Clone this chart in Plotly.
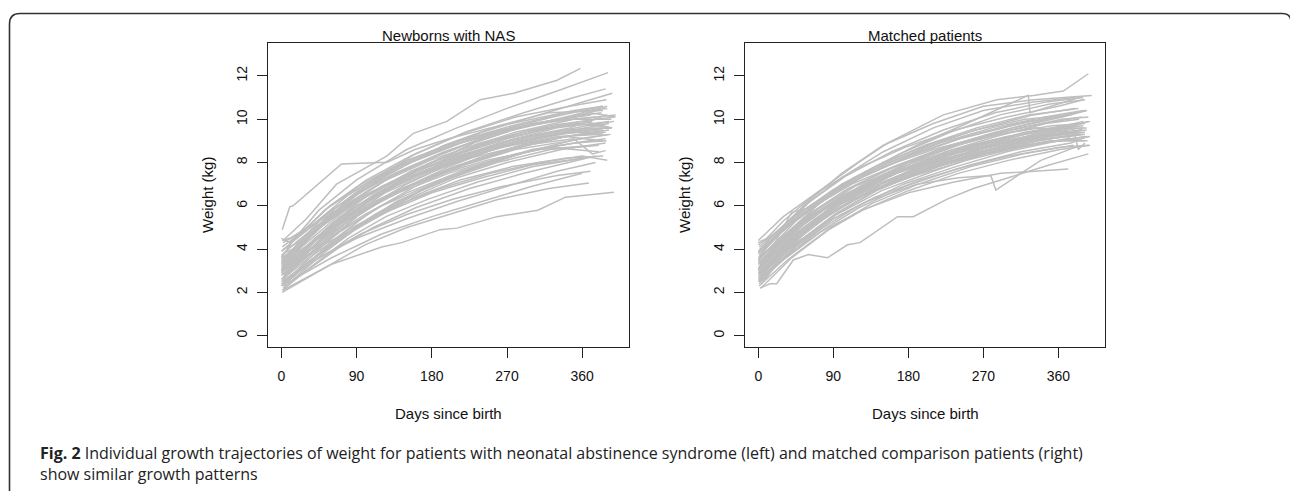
import plotly.graph_objects as go

# ---------------- data ----------------
x_ticks = [0, 90, 180, 270, 360]
y_ticks = [0, 2, 4, 6, 8, 10, 12]
panel_titles = ["Newborns with NAS", "Matched patients"]
x_title = "Days since birth"
y_title = "Weight (kg)"
caption_bold = "Fig. 2"
caption_text = ("Individual growth trajectories of weight for patients with neonatal abstinence "
                "syndrome (left) and matched comparison patients (right)")
caption_line2 = "show similar growth patterns"

nas_days = [
    [1, 10, 14, 72, 118, 126, 160, 200, 250, 300, 350, 385],
    [2, 30, 66, 126, 158, 198, 238, 278, 330, 358],
    [0, 14, 45, 90, 150, 210, 270, 330, 391],
    [2, 20, 60, 100, 160, 220, 290, 350, 388],
    [1, 30, 75, 120, 180, 240, 300, 360, 396],
    [0, 10, 40, 90, 135, 195, 260, 320, 385],
    [3, 25, 60, 110, 170, 230, 300, 370],
    [0, 30, 70, 120, 180, 250, 320, 398],
    [2, 15, 50, 100, 150, 210, 280, 345, 390],
    [1, 35, 80, 130, 190, 250, 310, 380],
    [0, 20, 55, 95, 150, 210, 275, 340, 395],
    [4, 30, 65, 110, 165, 225, 290, 355, 392],
    [0, 12, 45, 90, 140, 200, 265, 330, 385],
    [2, 30, 70, 120, 180, 240, 300, 370],
    [1, 25, 60, 100, 150, 215, 280, 350, 389],
    [0, 40, 85, 130, 185, 245, 310, 375],
    [3, 20, 50, 95, 150, 210, 270, 335, 388],
    [0, 15, 50, 90, 140, 200, 260, 320, 380],
    [2, 35, 75, 125, 180, 240, 300, 362],
    [1, 30, 70, 110, 160, 225, 290, 352, 376],
    [0, 20, 60, 105, 160, 220, 285, 345, 380],
    [2, 25, 55, 100, 145, 205, 265, 330, 383],
    [1, 10, 40, 80, 130, 190, 250, 320, 377],
    [0, 30, 65, 105, 155, 215, 280, 345, 395],
    [3, 18, 45, 90, 140, 200, 260, 330, 390],
    [1, 50, 94, 100, 150, 200, 260, 320, 368],
    [2, 60, 120, 144, 190, 210, 258, 307, 340, 398],
    [0, 45, 95, 150, 205, 265, 330, 370],
    [1, 30, 80, 130, 190, 250, 310, 360, 390],
    [0, 25, 60, 100, 150, 210, 275, 340, 388],
    [2, 14, 40, 85, 135, 195, 255, 320, 378],
    [0, 20, 55, 100, 155, 215, 280, 350, 400],
    [1, 30, 70, 115, 170, 235, 300, 365, 398],
    [3, 22, 58, 100, 150, 205, 270, 335, 392],
    [0, 35, 80, 125, 175, 235, 295, 355, 385],
    [2, 16, 48, 92, 140, 198, 262, 325, 384],
    [1, 28, 64, 110, 162, 225, 290, 355, 395],
    [0, 12, 36, 78, 128, 186, 246, 310, 372],
    [3, 30, 72, 118, 175, 240, 305, 366, 388],
    [1, 20, 50, 90, 145, 205, 270, 335, 382],
    [0, 40, 90, 140, 200, 260, 330, 392],
    [2, 15, 45, 85, 130, 185, 245, 305, 370, 400],
    [0, 25, 62, 105, 160, 225, 290, 350, 372, 388],
    [1, 18, 52, 96, 150, 212, 276, 340, 390],
    [0, 32, 75, 120, 178, 238, 300, 362, 396],
    [2, 10, 30, 70, 115, 170, 230, 295, 360, 385],
    [0, 45, 100, 160, 220, 280, 345, 394],
    [1, 22, 58, 102, 155, 215, 280, 345, 389],
    [0, 14, 42, 88, 138, 196, 258, 322, 380],
    [3, 35, 78, 124, 182, 244, 308, 370, 395],
    [0, 20, 50, 95, 145, 205, 270, 340, 385],
    [1, 26, 68, 112, 168, 230, 294, 356, 392],
    [0, 10, 28, 60, 105, 160, 220, 285, 350, 390],
    [2, 40, 80, 125, 175, 235, 300, 360],
    [1, 60, 120, 180, 240, 300, 360],
    [0, 30, 90, 150, 210, 270, 330, 376],
    [2, 50, 105, 160, 215, 275, 340, 385],
]
nas_weights = [
    [4.9, 5.95, 6.0, 7.93, 8.0, 8.0, 8.6, 9.1, 9.6, 10.0, 10.4, 10.6],
    [4.4, 5.4, 7.0, 8.3, 9.35, 9.9, 10.9, 11.2, 11.8, 12.35],
    [3.6, 4.4, 5.8, 7.2, 8.6, 9.6, 10.5, 11.3, 12.15],
    [3.4, 4.1, 5.6, 6.9, 8.4, 9.4, 10.3, 11.0, 11.4],
    [3.2, 4.4, 6.1, 7.3, 8.5, 9.4, 10.1, 10.8, 11.2],
    [3.0, 3.5, 4.8, 6.5, 7.6, 8.8, 9.7, 10.3, 10.4],
    [2.8, 3.6, 4.9, 6.4, 7.8, 8.9, 9.8, 10.2],
    [3.3, 4.3, 5.6, 6.9, 8.0, 9.0, 9.7, 10.1],
    [2.6, 3.2, 4.6, 6.1, 7.2, 8.2, 9.1, 9.6, 10.2],
    [3.1, 4.2, 5.6, 6.8, 7.8, 8.6, 9.2, 9.5],
    [3.5, 4.2, 5.3, 6.4, 7.4, 8.3, 9.0, 9.5, 9.6],
    [2.4, 3.3, 4.5, 5.8, 7.0, 8.0, 8.8, 9.3, 9.5],
    [3.9, 4.3, 5.3, 6.3, 7.2, 8.0, 8.7, 9.2, 9.3],
    [2.7, 3.6, 4.8, 6.0, 7.0, 7.9, 8.6, 9.0],
    [3.0, 3.7, 4.6, 5.6, 6.6, 7.6, 8.4, 8.9, 9.0],
    [3.3, 4.4, 5.5, 6.5, 7.4, 8.1, 8.6, 8.8],
    [2.2, 2.8, 3.8, 5.1, 6.3, 7.3, 8.0, 8.6, 8.9],
    [2.9, 3.5, 4.7, 5.7, 6.6, 7.5, 8.2, 8.7, 8.5],
    [2.5, 3.5, 4.6, 5.7, 6.6, 7.3, 7.9, 8.2],
    [2.1, 3.0, 4.1, 5.0, 5.9, 6.8, 7.5, 8.1, 8.3],
    [3.7, 4.4, 5.6, 6.6, 7.6, 8.4, 9.0, 9.4, 9.4],
    [4.3, 4.8, 5.9, 7.0, 7.9, 8.8, 9.5, 10.0, 10.3],
    [4.4, 4.5, 5.2, 6.5, 7.7, 8.7, 9.4, 9.9, 10.1],
    [3.1, 4.5, 5.9, 7.0, 8.0, 8.9, 9.6, 10.0, 10.0],
    [2.3, 3.0, 4.0, 5.5, 6.7, 7.8, 8.7, 9.3, 9.6],
    [2.0, 3.1, 4.05, 4.2, 5.0, 5.6, 6.3, 6.8, 7.05],
    [2.1, 3.3, 4.1, 4.3, 4.9, 4.97, 5.5, 5.8, 6.4, 6.63],
    [2.4, 3.6, 4.7, 5.6, 6.3, 6.9, 7.4, 7.6],
    [2.6, 3.5, 4.9, 5.9, 6.8, 7.5, 8.0, 8.3, 8.1],
    [3.4, 4.0, 5.0, 6.0, 6.9, 7.8, 8.6, 9.2, 9.4],
    [3.8, 4.0, 5.0, 6.4, 7.5, 8.5, 9.3, 9.9, 10.4],
    [2.9, 3.7, 5.0, 6.4, 7.6, 8.6, 9.4, 10.0, 10.2],
    [3.2, 4.1, 5.3, 6.5, 7.6, 8.5, 9.2, 9.7, 9.9],
    [2.7, 3.4, 4.6, 5.9, 7.0, 8.0, 8.8, 9.4, 9.8],
    [3.0, 4.0, 5.3, 6.4, 7.3, 8.2, 8.9, 9.3, 9.4],
    [3.5, 4.1, 5.4, 6.7, 7.8, 8.7, 9.5, 10.1, 10.6],
    [2.8, 3.9, 5.2, 6.5, 7.6, 8.6, 9.4, 9.8, 9.6],
    [3.6, 3.9, 4.7, 5.9, 7.0, 8.1, 8.9, 9.5, 9.9],
    [2.5, 3.3, 4.5, 5.7, 6.9, 7.9, 8.6, 9.0, 9.1],
    [3.3, 4.0, 5.1, 6.2, 7.3, 8.3, 9.1, 9.7, 9.8],
    [3.0, 4.5, 6.0, 7.1, 8.1, 8.9, 9.6, 9.9],
    [4.0, 4.2, 5.0, 6.2, 7.3, 8.3, 9.2, 9.8, 10.3, 10.1],
    [2.6, 3.6, 5.0, 6.3, 7.4, 8.2, 8.8, 9.1, 8.4, 8.55],
    [3.9, 4.5, 5.8, 7.0, 8.1, 9.0, 9.7, 10.3, 10.5],
    [3.4, 4.6, 6.0, 7.1, 8.1, 8.9, 9.5, 9.9, 9.6],
    [3.1, 3.3, 4.1, 5.5, 6.6, 7.6, 8.4, 9.0, 9.5, 9.5],
    [2.8, 4.1, 5.8, 7.0, 7.9, 8.6, 9.0, 9.3],
    [4.1, 4.7, 6.0, 7.2, 8.3, 9.3, 10.1, 10.6, 10.9],
    [2.3, 2.7, 3.7, 5.0, 6.2, 7.2, 8.0, 8.6, 8.8],
    [2.9, 4.0, 5.4, 6.6, 7.6, 8.5, 9.2, 9.6, 9.6],
    [3.2, 3.6, 4.5, 5.7, 6.8, 7.8, 8.6, 9.2, 9.0],
    [2.4, 3.2, 4.5, 5.6, 6.7, 7.7, 8.5, 9.1, 9.3],
    [4.5, 4.3, 4.8, 5.8, 6.9, 7.9, 8.8, 9.6, 10.2, 10.6],
    [2.2, 3.3, 4.5, 5.5, 6.3, 7.1, 7.8, 8.2],
    [2.3, 3.6, 4.7, 5.5, 6.2, 6.9, 7.5],
    [2.5, 3.3, 4.5, 5.4, 6.2, 6.9, 7.6, 8.0],
    [3.0, 4.2, 5.3, 6.4, 7.2, 7.8, 8.2, 8.3],
]

matched_days = [
    [0, 30, 70, 120, 155, 192, 222, 286, 330, 366, 396],
    [2, 25, 60, 100, 150, 210, 270, 330, 400],
    [0, 40, 80, 130, 190, 250, 324, 326, 360, 385],
    [1, 20, 55, 100, 150, 210, 270, 330, 380],
    [0, 30, 70, 115, 170, 230, 290, 350, 392],
    [3, 40, 85, 130, 185, 245, 305, 365, 394],
    [0, 15, 45, 90, 140, 200, 260, 320, 375],
    [2, 30, 65, 110, 165, 225, 285, 345, 385],
    [1, 25, 60, 105, 160, 220, 280, 345, 390],
    [0, 35, 75, 120, 175, 235, 295, 355, 388],
    [4, 20, 50, 95, 145, 205, 265, 330, 384],
    [0, 28, 68, 112, 168, 228, 290, 352, 392],
    [1, 14, 40, 85, 135, 195, 255, 318, 378],
    [2, 30, 72, 118, 172, 232, 296, 358, 398],
    [2, 14, 22, 42, 60, 83, 107, 122, 167, 186, 226, 258, 300, 350, 396],
    [0, 35, 80, 130, 190, 240, 279, 285, 339, 380],
    [1, 30, 75, 125, 180, 235, 291, 372],
    [0, 20, 55, 100, 155, 215, 275, 340, 385],
    [3, 45, 90, 140, 195, 255, 315, 375, 395],
    [0, 25, 65, 110, 165, 225, 290, 350, 392],
    [1, 35, 80, 125, 180, 240, 300, 362, 398],
    [0, 15, 50, 95, 150, 210, 270, 332, 380],
    [2, 30, 70, 115, 170, 230, 290, 350, 395],
    [0, 40, 85, 130, 185, 245, 310, 370, 390],
    [1, 22, 58, 102, 156, 216, 278, 340, 378, 384, 392],
    [0, 18, 48, 92, 146, 206, 266, 328, 388],
    [3, 32, 74, 120, 176, 238, 300, 362, 396],
    [0, 12, 36, 78, 128, 186, 248, 310, 372],
    [1, 26, 62, 106, 160, 222, 284, 346, 390],
    [0, 36, 82, 128, 182, 242, 304, 366, 394],
    [2, 20, 52, 96, 148, 208, 268, 330, 386],
    [0, 28, 66, 110, 164, 224, 286, 348, 392],
    [1, 16, 44, 88, 140, 200, 262, 324, 384],
    [0, 30, 70, 116, 172, 234, 298, 360, 396],
    [3, 40, 88, 136, 192, 254, 318, 378],
    [0, 22, 56, 100, 154, 214, 276, 338, 390],
    [1, 34, 78, 124, 178, 238, 300, 362, 392],
    [0, 10, 30, 70, 118, 176, 236, 298, 360, 390],
    [2, 26, 60, 104, 158, 218, 280, 342, 388],
    [0, 44, 92, 142, 198, 260, 322, 382],
    [1, 18, 50, 94, 148, 210, 272, 336, 386],
    [0, 24, 58, 102, 156, 218, 280, 344, 390],
    [2, 38, 84, 132, 188, 250, 312, 374, 398],
    [0, 20, 40, 60, 100, 150, 210, 270, 330, 380],
    [1, 30, 68, 112, 166, 226, 288, 350, 394],
    [0, 14, 42, 86, 138, 198, 258, 320, 380],
    [3, 28, 64, 108, 162, 222, 284, 346, 392],
    [0, 36, 80, 126, 180, 240, 302, 364, 396],
    [1, 20, 54, 98, 150, 210, 272, 334, 388],
    [0, 32, 74, 120, 174, 236, 298, 360, 392],
    [2, 12, 34, 76, 124, 182, 242, 304, 366, 394],
    [0, 40, 90, 140, 196, 258, 320, 382],
    [1, 24, 60, 106, 160, 220, 282, 344, 390],
]
matched_weights = [
    [4.4, 5.5, 6.6, 8.0, 8.9, 9.6, 10.2, 10.9, 11.1, 11.3, 12.1],
    [4.0, 4.9, 6.2, 7.5, 8.8, 9.8, 10.6, 10.9, 11.1],
    [3.8, 5.2, 6.4, 7.6, 8.8, 9.8, 11.1, 10.3, 10.7, 11.0],
    [3.6, 4.6, 6.0, 7.3, 8.5, 9.6, 10.4, 10.8, 11.0],
    [3.3, 4.6, 6.0, 7.3, 8.4, 9.4, 10.2, 10.7, 10.9],
    [3.0, 4.4, 5.9, 7.0, 8.0, 8.9, 9.6, 10.1, 10.4],
    [3.5, 4.1, 5.3, 6.6, 7.7, 8.7, 9.5, 10.0, 10.2],
    [2.8, 3.9, 5.1, 6.4, 7.5, 8.5, 9.2, 9.8, 10.0],
    [3.2, 4.2, 5.4, 6.5, 7.5, 8.3, 9.0, 9.5, 9.9],
    [3.1, 4.3, 5.5, 6.6, 7.5, 8.3, 8.9, 9.4, 9.6],
    [2.4, 3.2, 4.4, 5.7, 6.8, 7.8, 8.6, 9.3, 9.7],
    [3.9, 4.8, 6.0, 7.0, 7.9, 8.7, 9.3, 9.7, 9.8],
    [2.6, 3.2, 4.3, 5.6, 6.7, 7.6, 8.4, 9.0, 9.4],
    [3.4, 4.5, 5.7, 6.7, 7.6, 8.4, 9.0, 9.5, 9.9],
    [2.2, 2.4, 2.4, 3.5, 3.75, 3.6, 4.2, 4.3, 5.5, 5.5, 6.3, 6.8, 7.3, 7.9, 8.4],
    [2.9, 4.0, 5.2, 6.2, 7.0, 7.3, 7.4, 6.73, 8.1, 8.7],
    [2.5, 3.5, 4.8, 5.8, 6.6, 7.1, 7.5, 7.7],
    [3.0, 3.8, 5.0, 6.1, 7.0, 7.8, 8.4, 8.9, 9.1],
    [2.7, 4.1, 5.4, 6.4, 7.2, 7.9, 8.5, 8.9, 9.2],
    [3.6, 4.4, 5.6, 6.6, 7.5, 8.2, 8.7, 9.1, 9.3],
    [2.3, 3.5, 4.8, 5.8, 6.7, 7.5, 8.1, 8.6, 8.8],
    [4.2, 4.6, 5.7, 6.8, 7.8, 8.6, 9.2, 9.6, 9.4],
    [3.2, 4.2, 5.3, 6.3, 7.2, 8.0, 8.6, 9.0, 9.0],
    [2.9, 4.3, 5.6, 6.6, 7.5, 8.2, 8.7, 9.1, 9.6],
    [3.4, 4.2, 5.4, 6.5, 7.5, 8.3, 8.9, 9.3, 9.6, 8.6, 8.9],
    [3.0, 3.7, 4.8, 6.0, 7.0, 7.9, 8.6, 9.1, 9.5],
    [2.6, 3.6, 4.8, 5.9, 6.9, 7.7, 8.3, 8.7, 8.8],
    [3.8, 4.2, 5.1, 6.3, 7.4, 8.4, 9.2, 9.8, 10.2],
    [4.1, 4.9, 6.2, 7.4, 8.5, 9.5, 10.3, 10.8, 11.0],
    [3.3, 4.6, 5.9, 6.9, 7.8, 8.6, 9.2, 9.6, 9.6],
    [2.5, 3.3, 4.6, 5.9, 7.0, 7.9, 8.7, 9.2, 9.5],
    [2.8, 3.8, 5.1, 6.2, 7.2, 8.0, 8.7, 9.2, 9.4],
    [3.7, 4.3, 5.5, 6.7, 7.8, 8.8, 9.6, 10.2, 10.5],
    [3.5, 4.6, 5.8, 6.9, 7.8, 8.6, 9.2, 9.6, 9.9],
    [2.2, 3.6, 5.0, 6.1, 7.0, 7.8, 8.4, 8.8],
    [3.1, 4.0, 5.2, 6.4, 7.4, 8.3, 9.0, 9.5, 9.7],
    [2.9, 4.1, 5.4, 6.5, 7.4, 8.1, 8.7, 9.0, 9.0],
    [4.3, 4.5, 5.3, 6.6, 7.7, 8.7, 9.5, 10.1, 10.6, 10.9],
    [3.3, 4.3, 5.6, 6.7, 7.7, 8.6, 9.3, 9.8, 10.1],
    [2.7, 4.2, 5.6, 6.7, 7.6, 8.4, 9.0, 9.3],
    [2.4, 3.1, 4.3, 5.6, 6.7, 7.6, 8.4, 9.0, 9.3],
    [3.9, 4.7, 5.9, 7.0, 8.0, 8.9, 9.6, 10.1, 10.4],
    [3.0, 4.3, 5.6, 6.6, 7.4, 8.1, 8.7, 9.1, 9.2],
    [3.5, 4.3, 5.7, 5.9, 7.0, 8.0, 8.9, 9.6, 10.2, 10.5],
    [3.2, 4.2, 5.4, 6.5, 7.5, 8.3, 8.9, 9.3, 9.5],
    [2.6, 3.2, 4.4, 5.8, 6.9, 7.9, 8.7, 9.3, 9.7],
    [3.6, 4.5, 5.7, 6.8, 7.8, 8.7, 9.4, 10.0, 10.4],
    [3.4, 4.6, 5.9, 7.0, 8.0, 8.8, 9.5, 10.0, 10.1],
    [2.9, 3.7, 4.9, 6.1, 7.1, 8.0, 8.7, 9.2, 9.4],
    [2.5, 3.6, 4.9, 6.0, 7.0, 7.8, 8.5, 9.0, 9.2],
    [4.0, 4.3, 5.1, 6.3, 7.3, 8.3, 9.1, 9.7, 10.2, 10.4],
    [3.1, 4.6, 6.0, 7.1, 8.0, 8.8, 9.4, 9.8],
    [2.7, 3.6, 4.9, 6.1, 7.1, 7.9, 8.6, 9.1, 9.3],
]

# ---------------- figure ----------------
W, H = 1290, 491
LINE_COLOR = "#bebebe"
AX_COLOR = "#222222"
R_FONT = "Liberation Sans, Arial, Helvetica, sans-serif"


def px(x):
    return x / W


def py(y):
    return 1 - y / H


fig = go.Figure()
for d, w in zip(nas_days, nas_weights):
    fig.add_trace(go.Scatter(x=d, y=w, mode="lines", xaxis="x", yaxis="y",
                             line=dict(color=LINE_COLOR, width=1.5),
                             hoverinfo="skip", showlegend=False))
for d, w in zip(matched_days, matched_weights):
    fig.add_trace(go.Scatter(x=d, y=w, mode="lines", xaxis="x2", yaxis="y2",
                             line=dict(color=LINE_COLOR, width=1.5),
                             hoverinfo="skip", showlegend=False))

panels = [(268, 629), (745, 1105)]
top_px, bot_px = 43, 347

xaxis_common = dict(range=[-16, 416], tickvals=x_ticks, ticktext=[str(v) for v in x_ticks],
                    showline=True, mirror=True, linecolor=AX_COLOR, linewidth=1.4,
                    ticks="outside", ticklen=10, tickwidth=1.4, tickcolor=AX_COLOR,
                    showgrid=False, zeroline=False,
                    tickfont=dict(family=R_FONT, size=14, color="#111"),
                    ticklabelstandoff=6)
yaxis_common = dict(range=[-0.52, 13.52], tickvals=y_ticks, ticktext=[str(v) for v in y_ticks],
                    showline=True, mirror=True, linecolor=AX_COLOR, linewidth=1.4,
                    ticks="outside", ticklen=10, tickwidth=1.4, tickcolor=AX_COLOR,
                    showgrid=False, zeroline=False, tickangle=-90,
                    tickfont=dict(family=R_FONT, size=14, color="#111"),
                    ticklabelstandoff=4)

fig.update_layout(
    width=W, height=H, margin=dict(l=0, r=0, t=0, b=0),
    paper_bgcolor="white", plot_bgcolor="white",
    xaxis=dict(domain=[px(panels[0][0]), px(panels[0][1])], anchor="y", **xaxis_common),
    yaxis=dict(domain=[py(bot_px), py(top_px)], anchor="x", **yaxis_common),
    xaxis2=dict(domain=[px(panels[1][0]), px(panels[1][1])], anchor="y2", **xaxis_common),
    yaxis2=dict(domain=[py(bot_px), py(top_px)], anchor="x2", **yaxis_common),
)

annotations = []
for (l, r), title in zip(panels, panel_titles):
    cx = (l + r) / 2
    annotations.append(dict(text=title, x=px(cx), y=py(35), xref="paper", yref="paper",
                            showarrow=False, xanchor="center", yanchor="middle",
                            font=dict(family=R_FONT, size=15, color="#111")))
    annotations.append(dict(text=x_title, x=px(cx), y=py(413), xref="paper", yref="paper",
                            showarrow=False, xanchor="center", yanchor="middle",
                            font=dict(family=R_FONT, size=15, color="#111")))
    annotations.append(dict(text=y_title, x=px(l - 61), y=py((top_px + bot_px) / 2),
                            xref="paper", yref="paper", showarrow=False, textangle=-90,
                            xanchor="center", yanchor="middle",
                            font=dict(family=R_FONT, size=15, color="#111")))

annotations.append(dict(text=f"<b>{caption_bold}</b> {caption_text}<br>{caption_line2}",
                        x=px(38), y=py(463), xref="paper", yref="paper", showarrow=False,
                        xanchor="left", yanchor="middle", align="left",
                        font=dict(family="Open Sans, Noto Sans, sans-serif", size=16,
                                  color="#222")))
fig.update_layout(annotations=annotations)

# rounded outer frame
path = (f"M {px(9.5)} {py(500)} L {px(9.5)} {py(24)} "
        f"Q {px(9.5)} {py(13.5)} {px(20)} {py(13.5)} "
        f"L {px(1282)} {py(13.5)} Q {px(1291)} {py(13.5)} {px(1291)} {py(22)} "
        f"L {px(1291)} {py(500)}")
fig.add_shape(type="path", path=path, xref="paper", yref="paper",
              line=dict(color="#333333", width=1.6))

fig.write_html("out.html")
